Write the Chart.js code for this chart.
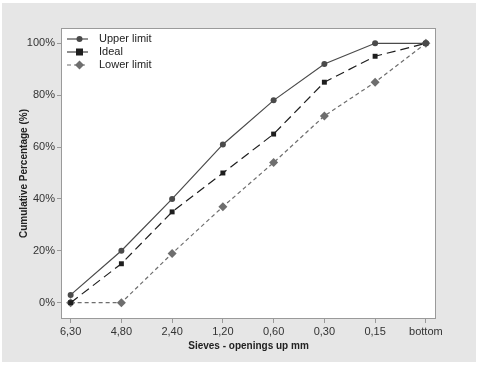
<!DOCTYPE html>
<html>
<head>
<meta charset="utf-8">
<script src="https://cdn.jsdelivr.net/npm/chart.js@4"></script>
<style>
  html, body { margin: 0; padding: 0; background: #fff; }
  #wrap { position: absolute; left: 2px; top: 3px; width: 474px; height: 359px; background: #e6e6e6; }
</style>
</head>
<body>
<div id="wrap"><canvas id="lienzo" width="474" height="359"></canvas></div>
<script>
// sieve openings (x categories)
var sieves = ['6,30', '4,80', '2,40', '1,20', '0,60', '0,30', '0,15', 'bottom'];
var seriesNames = ['Upper limit', 'Ideal', 'Lower limit'];
var upperLimit = [3, 20, 40, 61, 78, 92, 100, 100];
var ideal = [0, 15, 35, 50, 65, 85, 95, 100];
var lowerLimit = [0, 0, 19, 37, 54, 72, 85, 100];
var yTicks = [0, 20, 40, 60, 80, 100];

function pts(arr) {
	var out = [];
	arr.forEach(function (v, i) { out.push({ x: i, y: v }); });
	return out;
}

var tickFont = { family: 'Liberation Sans, Arial, sans-serif', size: 11 };
var titleFont = { family: 'Liberation Sans, Arial, sans-serif', size: 10, weight: 'bold' };

var frame = {
	id: 'frame',
	beforeDraw: function (chart) {
		var a = chart.chartArea, ctx = chart.ctx;
		ctx.save();
		ctx.fillStyle = '#ffffff';
		ctx.fillRect(a.left, a.top, a.right - a.left, a.bottom - a.top);
		ctx.restore();
	},
	afterDraw: function (chart) {
		var a = chart.chartArea, ctx = chart.ctx;
		ctx.save();
		ctx.strokeStyle = '#9a9a9a';
		ctx.lineWidth = 1;
		ctx.strokeRect(Math.round(a.left) + 0.5, Math.round(a.top) + 0.5, Math.round(a.right - a.left) - 1, Math.round(a.bottom - a.top) - 1);

		// legend inside plot, top-left
		var x0 = a.left + 6, y0 = a.top + 11;
		chart.data.datasets.forEach(function (ds, i) {
			var y = y0 + i * 13;
			ctx.strokeStyle = ds.borderColor;
			ctx.lineWidth = ds.borderWidth;
			ctx.setLineDash(ds.borderDash || []);
			ctx.beginPath();
			ctx.moveTo(x0, y);
			ctx.lineTo(x0 + 21, y);
			ctx.stroke();
			ctx.setLineDash([]);
			ctx.fillStyle = ds.pointBackgroundColor;
			var mx = x0 + 12.5;
			if (ds.pointStyle === 'circle') {
				ctx.beginPath(); ctx.arc(mx, y, 3, 0, Math.PI * 2); ctx.fill();
			} else if (ds.pointStyle === 'rect') {
				ctx.fillRect(mx - 3.5, y - 3.5, 7, 7);
			} else {
				ctx.beginPath();
				ctx.moveTo(mx, y - 4.5); ctx.lineTo(mx + 4.5, y); ctx.lineTo(mx, y + 4.5); ctx.lineTo(mx - 4.5, y);
				ctx.closePath(); ctx.fill();
			}
			ctx.fillStyle = '#222';
			ctx.font = '11px Liberation Sans, Arial, sans-serif';
			ctx.textBaseline = 'middle';
			ctx.fillText(ds.label, x0 + 32, y);
		});
		ctx.restore();
	}
};

var chart = new Chart(document.getElementById('lienzo'), {
	type: 'line',
	data: {
		datasets: [
			{
				label: seriesNames[0], data: pts(upperLimit),
				borderColor: '#4a4a4a', borderWidth: 1.2,
				pointStyle: 'circle', pointRadius: 3, pointBackgroundColor: '#4a4a4a', pointBorderWidth: 0
			},
			{
				label: seriesNames[1], data: pts(ideal),
				borderColor: '#1e1e1e', borderWidth: 1.2, borderDash: [9, 5],
				pointStyle: 'rect', pointRadius: 3.5, pointBackgroundColor: '#1e1e1e', pointBorderWidth: 0
			},
			{
				label: seriesNames[2], data: pts(lowerLimit),
				borderColor: '#6e6e6e', borderWidth: 1.2, borderDash: [4, 3],
				pointStyle: 'rectRot', pointRadius: 4.5, pointBackgroundColor: '#6e6e6e', pointBorderWidth: 0
			}
		]
	},
	options: {
		responsive: false,
		animation: false,
		layout: { padding: { top: 25, right: 40, left: 12, bottom: 0 } },
		plugins: { legend: { display: false }, tooltip: { enabled: false } },
		scales: {
			x: {
				type: 'linear', min: -0.19, max: 7.2,
				afterBuildTicks: function (s) { s.ticks = sieves.map(function (c, i) { return { value: i }; }); },
				afterFit: function (s) { s.height = 43; },
				ticks: { callback: function (v) { return sieves[v]; }, color: '#333', font: tickFont, padding: 2, maxRotation: 0 },
				grid: { drawOnChartArea: false, drawTicks: true, tickLength: 4, color: '#9a9a9a' },
				border: { display: false },
				title: { display: true, text: 'Sieves - openings up mm', color: '#222', font: titleFont, padding: { top: 4, bottom: 10 } }
			},
			y: {
				min: -6.3, max: 105.9,
				afterBuildTicks: function (s) { s.ticks = yTicks.map(function (v) { return { value: v }; }); },
				afterFit: function (s) { s.width = 47; },
				ticks: { callback: function (v) { return v + '%'; }, color: '#333', font: tickFont, padding: 2 },
				grid: { drawOnChartArea: false, drawTicks: true, tickLength: 4, color: '#9a9a9a' },
				border: { display: false },
				title: { display: true, text: 'Cumulative Percentage (%)', color: '#222', font: titleFont, padding: { bottom: 6 } }
			}
		}
	},
	plugins: [frame]
});
</script>
</body>
</html>
